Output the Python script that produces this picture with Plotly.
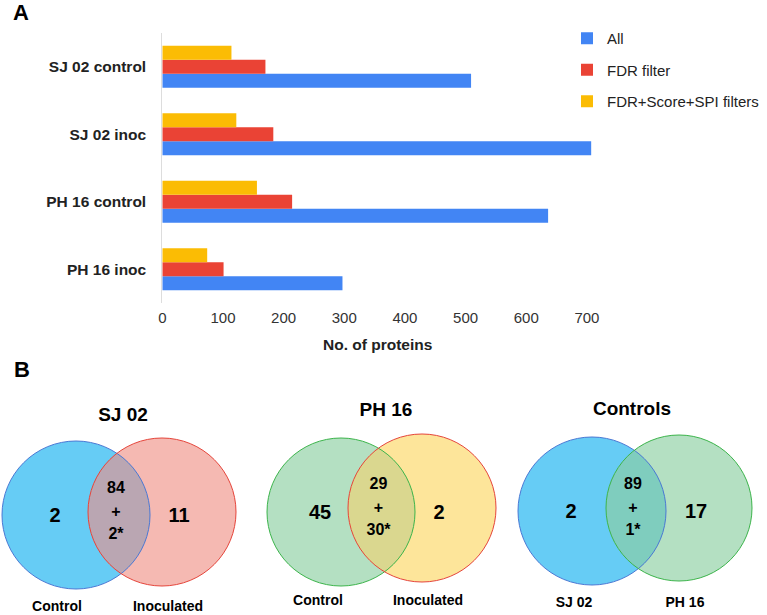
import numpy as np
import plotly.graph_objects as go

# ---------------- data ----------------
categories = ["SJ 02 control", "SJ 02 inoc", "PH 16 control", "PH 16 inoc"]
all_counts = [509, 707, 636, 297]
fdr_counts = [170, 183, 214, 101]
fdr_score_spi_counts = [114, 122, 156, 74]
series_names = ["All", "FDR filter", "FDR+Score+SPI filters"]
x_ticks = [0, 100, 200, 300, 400, 500, 600, 700]

venn_titles = ["SJ 02", "PH 16", "Controls"]
venn_left_labels = ["Control", "Control", "SJ 02"]
venn_right_labels = ["Inoculated", "Inoculated", "PH 16"]
venn_left_only = ["2", "45", "2"]
venn_shared = ["84", "29", "89"]
venn_shared_extra = ["2*", "30*", "1*"]
venn_right_only = ["11", "2", "17"]

# ---------------- styling / layout ----------------
W, H = 767, 615
FONT = "Liberation Sans, Arial, sans-serif"
bar_colors = ["#4285F4", "#EA4335", "#FBBC04"]

# venn geometry in pixels: (cx, cy, r) left, right
venn_geom = [
    ((76, 515, 74), (162, 512, 74)),
    ((341, 512, 74), (422, 508, 74)),
    ((592, 511, 74), (679, 508, 73)),
]
venn_styles = [
    # left fill, left line, right fill, right line, overlap fill
    ("#66CCF5", "#4A78D4", "#F5B9B2", "#E5443A", "#BAA6B2"),
    ("#B4E0C2", "#3CB44B", "#FDE59A", "#E5443A", "#DAD78F"),
    ("#66CCF5", "#4A78D4", "#B4E0C2", "#3CB44B", "#7FCDBE"),
]
title_pos = [(123, 416), (386, 411), (632, 410)]
label_y = [607, 601, 603]
label_dx = [(-19, 6), (-23, 6), (-18, 6)]

fig = go.Figure()

cats_bottom_up = categories[::-1]
for name, vals, col in zip(series_names,
                           [all_counts, fdr_counts, fdr_score_spi_counts],
                           bar_colors):
    fig.add_trace(go.Bar(
        y=categories, x=vals, orientation="h", name=name,
        marker=dict(color=col, line=dict(width=0)),
        legendgroup=name, hoverinfo="x+y",
    ))


def lens_path(c1, c2, n=60):
    (x1, y1, r1), (x2, y2, r2) = c1, c2
    dx, dy = x2 - x1, y2 - y1
    d = np.hypot(dx, dy)
    a = (r1**2 - r2**2 + d**2) / (2 * d)
    phi = np.arctan2(dy, dx)
    a1 = np.arccos(a / r1)
    a2 = np.arccos((d - a) / r2)
    t1 = np.linspace(phi - a1, phi + a1, n)
    t2 = np.linspace(phi + np.pi - a2, phi + np.pi + a2, n)
    px = np.concatenate([x1 + r1 * np.cos(t1), x2 + r2 * np.cos(t2)])
    py = np.concatenate([y1 + r1 * np.sin(t1), y2 + r2 * np.sin(t2)])
    pts = [f"{px[i]:.2f},{py[i]:.2f}" for i in range(len(px))]
    return "M" + " L".join(pts) + " Z"


shapes = []
for (cl, cr), (fl, ll, fr, lr, fo) in zip(venn_geom, venn_styles):
    for (cx, cy, r), fc in ((cl, fl), (cr, fr)):
        shapes.append(dict(type="circle", xref="x2", yref="y2", layer="below",
                           x0=cx - r, x1=cx + r, y0=cy - r, y1=cy + r,
                           fillcolor=fc, line=dict(width=0)))
    shapes.append(dict(type="path", xref="x2", yref="y2", layer="below",
                       path=lens_path(cl, cr), fillcolor=fo, line=dict(width=0)))
    for (cx, cy, r), lc in ((cl, ll), (cr, lr)):
        shapes.append(dict(type="circle", xref="x2", yref="y2", layer="below",
                           x0=cx - r, x1=cx + r, y0=cy - r, y1=cy + r,
                           fillcolor="rgba(0,0,0,0)", line=dict(color=lc, width=1)))

# venn texts
tx, ty, tt, ts = [], [], [], []
for i, (cl, cr) in enumerate(venn_geom):
    lx, ly, lr_ = cl
    rx, ry, rr = cr
    mid = (lx + lr_ + rx - rr) / 2 - 3
    cyv = (ly + ry) / 2
    tx += [title_pos[i][0], lx - 21, mid, mid, mid, rx + 17,
           lx + label_dx[i][0], rx + label_dx[i][1]]
    ty += [title_pos[i][1], cyv + 3.5, cyv - 25, cyv - 1, cyv + 21, cyv + 3.5,
           label_y[i], label_y[i]]
    tt += [f"<b>{venn_titles[i]}</b>", f"<b>{venn_left_only[i]}</b>",
           f"<b>{venn_shared[i]}</b>", "<b>+</b>", f"<b>{venn_shared_extra[i]}</b>",
           f"<b>{venn_right_only[i]}</b>",
           f"<b>{venn_left_labels[i]}</b>", f"<b>{venn_right_labels[i]}</b>"]
    ts += [19, 20, 16, 16, 16, 20, 14, 14]

fig.add_trace(go.Scatter(
    x=tx, y=ty, text=tt, mode="text", xaxis="x2", yaxis="y2",
    textposition="middle center",
    textfont=dict(family=FONT, size=ts, color="#000000"),
    showlegend=False, hoverinfo="skip", cliponaxis=False,
))

fig.update_layout(
    template="none",
    width=W, height=H, autosize=False,
    margin=dict(l=0, r=0, t=0, b=0, pad=0, autoexpand=False),
    paper_bgcolor="white", plot_bgcolor="rgba(0,0,0,0)",
    font=dict(family=FONT, color="#222222"),
    barmode="group", bargap=0.38, bargroupgap=0,
    shapes=shapes,
    xaxis=dict(domain=[162.3 / W, 593 / W], range=[0, 710], automargin=False,
               tickvals=x_ticks, showgrid=False, zeroline=False,
               showline=False, ticks="", ticklabelstandoff=4,
               tickfont=dict(size=15, color="#333333"),
               title=dict(text="<b>No. of proteins</b>", standoff=14,
                          font=dict(size=15.5, color="#222222")),
               fixedrange=True),
    yaxis=dict(domain=[1 - 303 / H, 1 - 33 / H], categoryorder="array",
               automargin=False,
               categoryarray=cats_bottom_up, showgrid=False, zeroline=False,
               showline=True, linecolor="#DDDDDD", linewidth=1,
               ticks="", ticklabelstandoff=12,
               tickfont=dict(size=15.5, color="#222222"),
               tickvals=categories,
               ticktext=[f"<b>{c}</b>" for c in categories],
               fixedrange=True),
    xaxis2=dict(domain=[0, 1], range=[0, W], visible=False, anchor="y2",
                automargin=False, fixedrange=True),
    yaxis2=dict(domain=[0, 1], range=[H, 0], visible=False, anchor="x2",
                automargin=False, fixedrange=True),
    legend=dict(x=567 / W, y=1 - 22 / H, xanchor="left", yanchor="top",
                traceorder="grouped", tracegroupgap=9,
                font=dict(size=15, color="#222222"),
                bgcolor="rgba(0,0,0,0)", borderwidth=0),
    annotations=[
        dict(text="<b>A</b>", x=21 / W, y=1 - 12 / H, xref="paper", yref="paper",
             xanchor="center", yanchor="middle",
             showarrow=False, font=dict(size=22, color="#000000")),
        dict(text="<b>B</b>", x=22 / W, y=1 - 369 / H, xref="paper", yref="paper",
             xanchor="center", yanchor="middle",
             showarrow=False, font=dict(size=22, color="#000000")),
    ],
)

fig.write_html("out.html")
